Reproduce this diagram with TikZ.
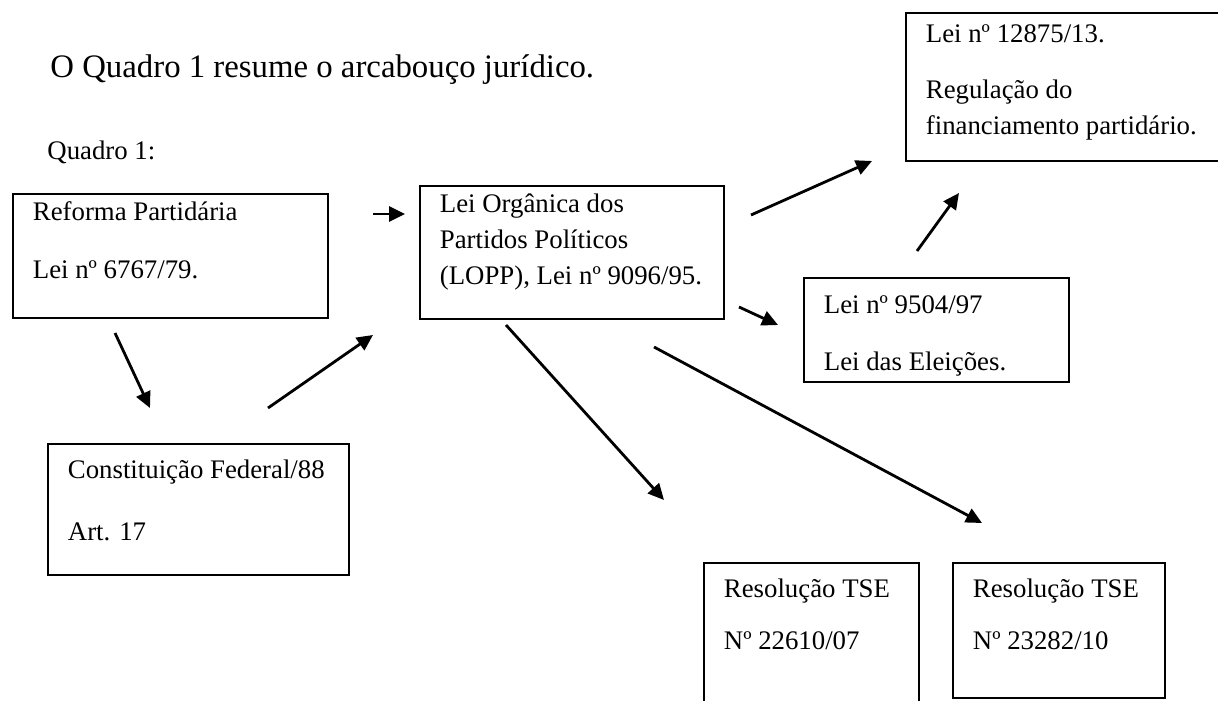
\documentclass[tikz,border=0pt]{standalone}
\usepackage{fontspec}
\setmainfont{Liberation Serif}
\usetikzlibrary{arrows.meta}
\newcommand{\boxfont}{\fontsize{13.4}{18}\selectfont}
% text block of a box: width, height, first baseline, lines
\newcommand{\lawtext}[4]{\parbox[c][#2][t]{#1}{\raggedright\rule{0pt}{#3}#4}}

\begin{document}
\begin{tikzpicture}[x=0.5pt, y=-0.5pt,
  lawbox/.style={draw, line width=0.9pt, anchor=north west, inner xsep=10pt, inner ysep=0pt, font=\boxfont},
  arr/.style={line width=1.4pt, -{Triangle[length=8pt, width=7.5pt]}}]
\useasboundingbox (0,0) rectangle (1218,700);
% heading and caption
\node[anchor=base west, inner sep=0pt, font=\fontsize{16.4}{20}\selectfont] (title) at (50,78) {O Quadro 1 resume o arcabouço jurídico.};
\node[anchor=base west, inner sep=0pt, font=\boxfont] (quadro) at (47,160) {Quadro 1:};
% boxes
\node[lawbox] (reforma) at (12,193) {\lawtext{137.5pt}{62pt}{13.5pt}{Reforma Partidária\\[11pt]Lei nº 6767/79.}};
\node[lawbox] (lopp) at (419,185) {\lawtext{132pt}{66.5pt}{13.5pt}{Lei Orgânica dos\\Partidos Políticos\\(LOPP), Lei nº 9096/95.}};
\node[lawbox] (lei12875) at (905,12) {\lawtext{147.5pt}{74pt}{15pt}{Lei nº 12875/13.\\[10pt]Regulação do\\financiamento partidário.}};
\node[lawbox] (lei9504) at (803,277) {\lawtext{112.5pt}{52pt}{18pt}{Lei nº 9504/97\\[10.5pt]Lei das Eleições.}};
\node[lawbox] (cf88) at (47,443) {\lawtext{130.5pt}{65.5pt}{17.5pt}{Constituição Federal/88\\[13pt]Art. 17}};
\node[lawbox] (res1) at (703,562) {\lawtext{87.5pt}{80pt}{17.5pt}{Resolução TSE\\[8pt]Nº 22610/07}};
\node[lawbox] (res2) at (952,562) {\lawtext{86pt}{67.5pt}{17.5pt}{Resolução TSE\\[8pt]Nº 23282/10}};
% arrow ends
\coordinate (rp-lopp-a) at (373,214);  \coordinate (rp-lopp-b) at (405,214);
\coordinate (rp-cf-a) at (115,333);    \coordinate (rp-cf-b) at (150,408);
\coordinate (cf-lopp-a) at (268,408);  \coordinate (cf-lopp-b) at (373,335);
\coordinate (lopp-l13-a) at (751,215); \coordinate (lopp-l13-b) at (872,161);
\coordinate (lopp-l97-a) at (739,307); \coordinate (lopp-l97-b) at (778,325);
\coordinate (l97-l13-a) at (917,251);  \coordinate (l97-l13-b) at (959,193);
\coordinate (lopp-r1-a) at (506,325);  \coordinate (lopp-r1-b) at (664,500);
\coordinate (lopp-r2-a) at (654,347);  \coordinate (lopp-r2-b) at (982,523);
% arrows
\draw[arr] (rp-lopp-a) -- (rp-lopp-b);
\draw[arr] (rp-cf-a) -- (rp-cf-b);
\draw[arr] (cf-lopp-a) -- (cf-lopp-b);
\draw[arr] (lopp-l13-a) -- (lopp-l13-b);
\draw[arr] (lopp-l97-a) -- (lopp-l97-b);
\draw[arr] (l97-l13-a) -- (l97-l13-b);
\draw[arr] (lopp-r1-a) -- (lopp-r1-b);
\draw[arr] (lopp-r2-a) -- (lopp-r2-b);
\end{tikzpicture}
\end{document}
